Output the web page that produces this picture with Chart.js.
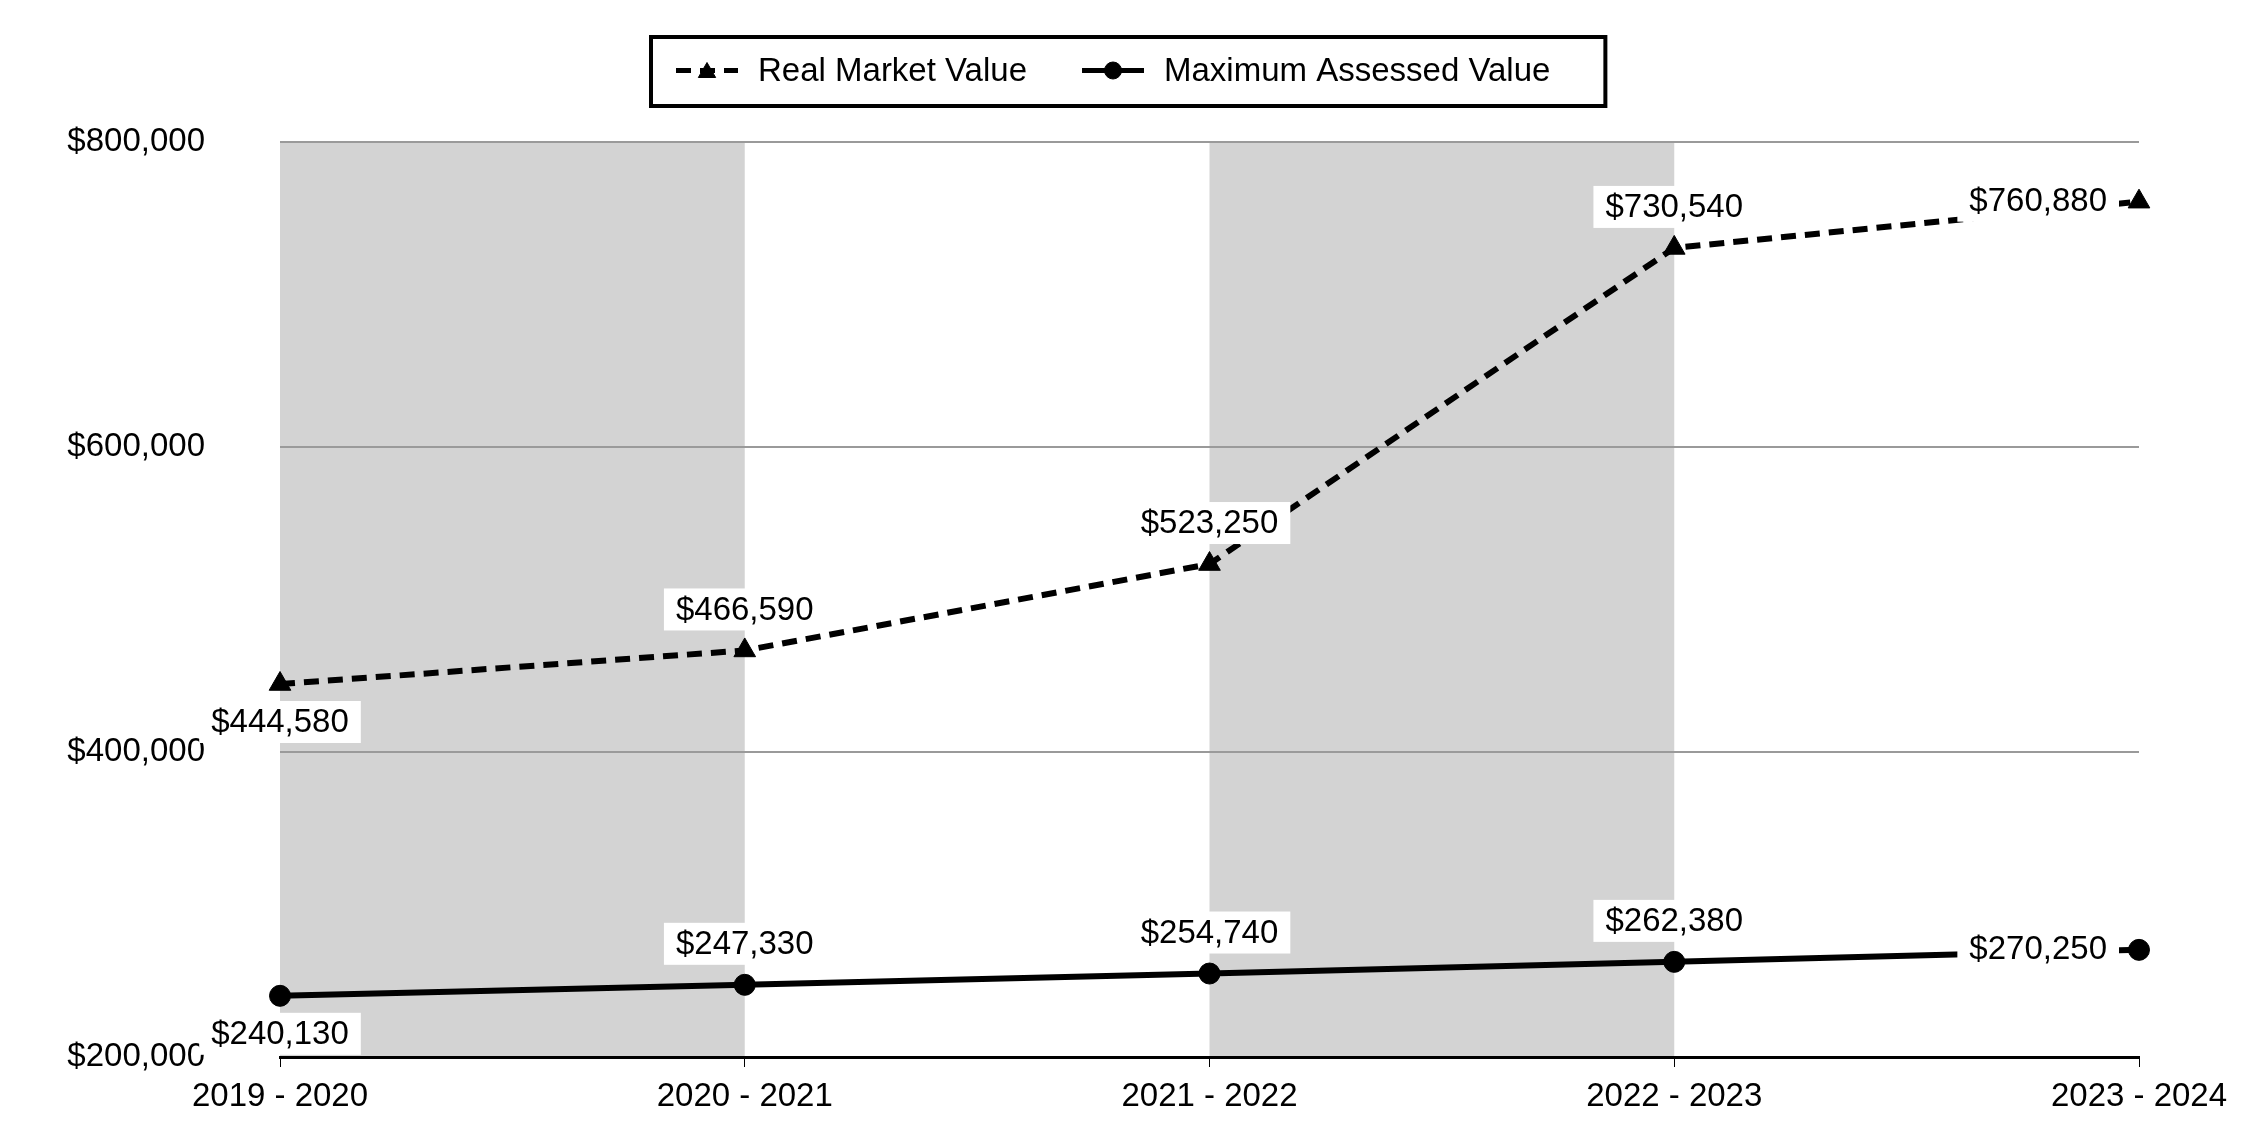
<!DOCTYPE html>
<html>
<head>
<meta charset="utf-8">
<script src="https://cdn.jsdelivr.net/npm/chart.js@4.4.1/dist/chart.umd.min.js"></script>
<style>
html,body{margin:0;padding:0;background:#ffffff;}
canvas{display:block;}
</style>
</head>
<body>
<canvas id="c" width="2250" height="1140"></canvas>
<script>
// ---- data ----
const categories = ['2019 - 2020', '2020 - 2021', '2021 - 2022', '2022 - 2023', '2023 - 2024'];
const realMarketValue = [444580, 466590, 523250, 730540, 760880];
const maxAssessedValue = [240130, 247330, 254740, 262380, 270250];
const seriesNames = ['Real Market Value', 'Maximum Assessed Value'];
const yTickValues = [200000, 400000, 600000, 800000];
const shadedBands = [[0, 1], [2, 3]];   // category index ranges with grey background

// ---- styling ----
const FAMILY = '"Liberation Sans", Arial, sans-serif';
const FONT_SIZE = 33;
const rmvLabelPos = ['below', 'above', 'above', 'above', 'left'];
const mavLabelPos = ['below', 'above', 'above', 'above', 'left'];

const fmt = v => '$' + Number(v).toLocaleString('en-US');

Chart.defaults.font.family = FAMILY;
Chart.defaults.font.size = FONT_SIZE;
Chart.defaults.color = '#000000';

const bandPlugin = {
  id: 'bands',
  beforeDraw(chart) {
    const {ctx, chartArea, scales} = chart;
    ctx.save();
    ctx.fillStyle = '#d3d3d3';
    shadedBands.forEach(([a, b]) => {
      const x0 = scales.x.getPixelForValue(a);
      const x1 = scales.x.getPixelForValue(b);
      ctx.fillRect(x0, chartArea.top, x1 - x0, chartArea.bottom - chartArea.top);
    });
    ctx.restore();
  }
};

const valueLabelPlugin = {
  id: 'valueLabels',
  afterDatasetsDraw(chart) {
    const ctx = chart.ctx;
    ctx.save();
    ctx.font = FONT_SIZE + 'px ' + FAMILY;
    ctx.textBaseline = 'middle';
    ctx.textAlign = 'left';
    chart.data.datasets.forEach((ds, di) => {
      const meta = chart.getDatasetMeta(di);
      meta.data.forEach((pt, i) => {
        const text = fmt(ds.data[i]);
        const w = ctx.measureText(text).width;
        const padX = 12, boxH = 42;
        let cx, cy;
        const pos = ds.labelPos[i];
        if (pos === 'above') { cx = pt.x; cy = pt.y - 41; }
        else if (pos === 'below') { cx = pt.x; cy = pt.y + 38; }
        else { cx = pt.x - 32 - w / 2; cy = pt.y - 1; }
        ctx.fillStyle = '#ffffff';
        ctx.fillRect(cx - w / 2 - padX, cy - boxH / 2, w + 2 * padX, boxH);
        ctx.fillStyle = '#000000';
        ctx.fillText(text, cx - w / 2, cy + 1);
      });
    });
    ctx.restore();
  }
};

const boxLegendPlugin = {
  id: 'boxLegend',
  afterDraw(chart) {
    const ctx = chart.ctx;
    ctx.save();
    ctx.font = FONT_SIZE + 'px ' + FAMILY;
    const symW = 62, symGap = 20, itemGap = 55, padL = 27, padR = 57;
    const top = 35, height = 73, border = 4;
    const items = chart.data.datasets.map((ds, di) => ({ds, di, w: ctx.measureText(ds.label).width}));
    let total = padL + padR + itemGap * (items.length - 1);
    items.forEach(it => { total += symW + symGap + it.w; });
    const left = Math.round(chart.width / 2 + 3 - total / 2);
    ctx.lineWidth = border;
    ctx.strokeStyle = '#000000';
    ctx.fillStyle = '#ffffff';
    ctx.fillRect(left, top, total, height);
    ctx.strokeRect(left + border / 2, top + border / 2, total - border, height - border);
    const cy = top + height / 2 - 1;
    let x = left + padL;
    items.forEach(it => {
      const ds = it.ds;
      ctx.save();
      ctx.beginPath();
      ctx.rect(x, cy - 10, symW, 20);
      ctx.clip();
      ctx.strokeStyle = ds.borderColor;
      ctx.lineWidth = 5;
      ctx.lineCap = 'butt';
      ctx.setLineDash(ds.borderDash || []);
      ctx.beginPath();
      ctx.moveTo(x, cy);
      ctx.lineTo(x + symW, cy);
      ctx.stroke();
      ctx.restore();
      ctx.setLineDash([]);
      ctx.fillStyle = '#000000';
      ctx.strokeStyle = '#000000';
      ctx.lineWidth = 1;
      Chart.helpers.drawPoint(ctx, {
        pointStyle: ds.pointStyle,
        radius: ds.pointStyle === 'triangle' ? 10 : 8.5,
        rotation: 0,
        borderWidth: 1
      }, x + symW / 2, ds.pointStyle === 'triangle' ? cy + 2 : cy);
      x += symW + symGap;
      ctx.fillStyle = '#000000';
      ctx.textBaseline = 'middle';
      ctx.fillText(ds.label, x, cy + 1);
      x += it.w + itemGap;
    });
    ctx.restore();
  }
};

const chart = new Chart(document.getElementById('c'), {
  type: 'line',
  data: {
    labels: categories,
    datasets: [
      {
        label: seriesNames[0],
        data: realMarketValue,
        labelPos: rmvLabelPos,
        borderColor: '#000000',
        backgroundColor: '#000000',
        borderWidth: 6,
        borderDash: [15, 9],
        borderCapStyle: 'butt',
        pointStyle: 'triangle',
        pointRadius: 12.5,
        pointBackgroundColor: '#000000',
        pointBorderColor: '#000000',
        pointBorderWidth: 1,
        tension: 0,
        fill: false
      },
      {
        label: seriesNames[1],
        data: maxAssessedValue,
        labelPos: mavLabelPos,
        borderColor: '#000000',
        backgroundColor: '#000000',
        borderWidth: 6,
        pointStyle: 'circle',
        pointRadius: 10.5,
        pointBackgroundColor: '#000000',
        pointBorderColor: '#000000',
        pointBorderWidth: 1,
        tension: 0,
        fill: false
      }
    ]
  },
  options: {
    responsive: false,
    devicePixelRatio: 1,
    animation: false,
    layout: { padding: { left: 0, right: 111, top: 142, bottom: 0 } },
    plugins: {
      legend: { display: false },
      tooltip: { enabled: false }
    },
    scales: {
      x: {
        offset: false,
        afterFit: s => { s.height = 83; },
        grid: {
          display: true,
          drawOnChartArea: false,
          drawTicks: true,
          tickLength: 10,
          color: '#000000',
          lineWidth: 1
        },
        border: { display: true, color: '#000000', width: 3 },
        ticks: { padding: 10, maxRotation: 0, autoSkip: false, color: '#000000' }
      },
      y: {
        min: yTickValues[0],
        max: yTickValues[yTickValues.length - 1],
        afterFit: s => { s.width = 280; },
        ticks: {
          stepSize: yTickValues[1] - yTickValues[0],
          padding: 0,
          color: '#000000',
          callback: v => fmt(v)
        },
        grid: {
          drawTicks: true,
          tickLength: 75,
          tickColor: 'rgba(0,0,0,0)',
          lineWidth: 2,
          color: c => (c.tick && c.tick.value === yTickValues[0]) ? 'rgba(0,0,0,0)' : '#9a9a9a'
        },
        border: { display: false }
      }
    }
  },
  plugins: [bandPlugin, valueLabelPlugin, boxLegendPlugin]
});
</script>
</body>
</html>
